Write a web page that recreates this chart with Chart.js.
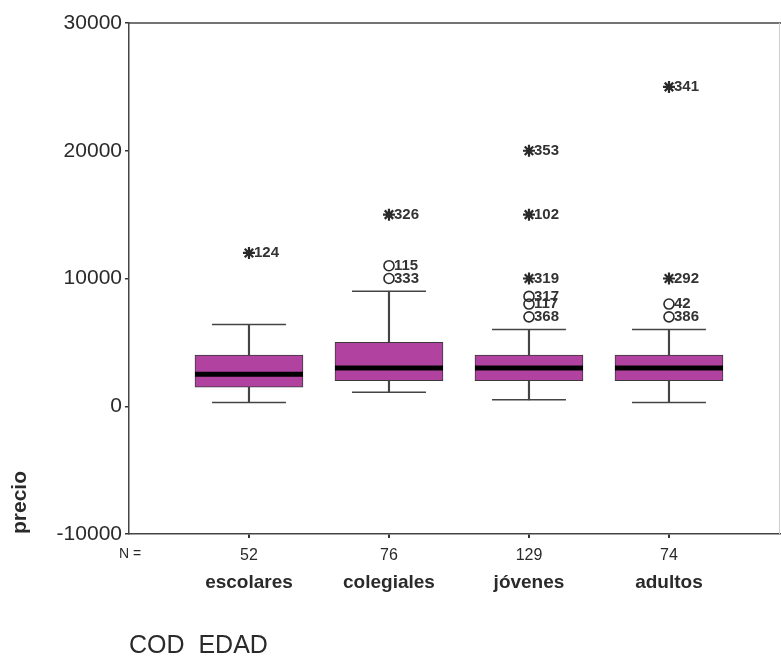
<!DOCTYPE html>
<html>
<head>
<meta charset="utf-8">
<script src="https://cdn.jsdelivr.net/npm/chart.js@4/dist/chart.umd.min.js"></script>
<style>
  body { margin: 0; background: #fff; }
</style>
</head>
<body>
<canvas id="boxChart" width="781" height="659"></canvas>
<script>
// categorias y resumen de cada caja
const categories = ["escolares", "colegiales", "jóvenes", "adultos"]
const counts = [52, 76, 129, 74]
const whiskerLow = [300, 1100, 500, 300]
const q1 = [1500, 2000, 2000, 2000]
const median = [2500, 3000, 3000, 3000]
const q3 = [4000, 5000, 4000, 4000]
const whiskerHigh = [6400, 9000, 6000, 6000]

// atipicos (circulo) y extremos (asterisco)
const outlierCat = [2, 2, 3, 3, 3, 4, 4]
const outlierVal = [11000, 10000, 8600, 8000, 7000, 8000, 7000]
const outlierId = ["115", "333", "317", "117", "368", "42", "386"]

const extremeCat = [1, 2, 3, 3, 3, 4, 4]
const extremeVal = [12000, 15000, 20000, 15000, 10000, 25000, 10000]
const extremeId = ["124", "326", "353", "102", "319", "341", "292"]

const yTicks = [-10000, 0, 10000, 20000, 30000]

const FONT = "'Liberation Sans', Arial, sans-serif"
const INK = "#2a2a2a"

const pos = categories.map((c, i) => i + 1)

// N = fila y etiquetas de los puntos
const extraText = {
  id: "extraText",
  afterDatasetsDraw(chart) {
    const ctx = chart.ctx
    ctx.save()
    ctx.fillStyle = "#333"
    ctx.textBaseline = "middle"
    ctx.textAlign = "left"
    ctx.font = "bold 15px " + FONT
    chart.data.datasets.forEach((ds, di) => {
      if (!ds.ids) return
      const meta = chart.getDatasetMeta(di)
      meta.data.forEach((pt, i) => {
        ctx.fillText(ds.ids[i], pt.x + 5, pt.y)
      })
    })
    const xs = chart.scales.x
    ctx.fillStyle = INK
    ctx.textAlign = "center"
    ctx.font = "14px " + FONT
    ctx.fillText("N =", 130, 554)
    ctx.font = "16px " + FONT
    counts.forEach((n, i) => {
      ctx.fillText(String(n), xs.getPixelForValue(pos[i]), 556)
    })
    ctx.restore()
  },
  afterDraw(chart) {
    const { ctx, chartArea } = chart
    ctx.save()
    ctx.strokeStyle = "#444"
    ctx.lineWidth = 1.5
    ctx.beginPath()
    ctx.moveTo(chartArea.left, chartArea.top)
    ctx.lineTo(chartArea.right + 1, chartArea.top)
    ctx.stroke()
    ctx.strokeStyle = "#cfcfcf"
    ctx.lineWidth = 1
    ctx.beginPath()
    ctx.moveTo(chartArea.right - 0.5, chartArea.top)
    ctx.lineTo(chartArea.right - 0.5, chartArea.bottom)
    ctx.stroke()
    ctx.restore()
  },
}

new Chart(document.getElementById("boxChart"), {
  type: "bar",
  data: {
    datasets: [
      {
        // bigotes
        data: pos.map((x, i) => ({ x: x, y: [whiskerLow[i], whiskerHigh[i]] })),
        backgroundColor: "#444",
        barThickness: 1.5,
        grouped: false,
        order: 6,
      },
      {
        // cajas
        data: pos.map((x, i) => ({ x: x, y: [q1[i], q3[i]] })),
        backgroundColor: "rgb(178, 66, 160)",
        borderColor: "#3a3a3a",
        borderWidth: 1,
        borderSkipped: false,
        barThickness: 108,
        grouped: false,
        order: 5,
      },
      {
        type: "scatter",
        data: pos.map((x, i) => ({ x: x, y: whiskerLow[i] })).concat(pos.map((x, i) => ({ x: x, y: whiskerHigh[i] }))),
        pointStyle: "line",
        pointRadius: 37,
        borderColor: "#444",
        borderWidth: 1.5,
        order: 4,
      },
      {
        type: "scatter",
        data: pos.map((x, i) => ({ x: x, y: median[i] })),
        pointStyle: "line",
        pointRadius: 54,
        borderColor: "#000",
        borderWidth: 5,
        order: 3,
      },
      {
        type: "scatter",
        data: outlierCat.map((c, i) => ({ x: c, y: outlierVal[i] })),
        ids: outlierId,
        pointStyle: "circle",
        pointRadius: 5,
        backgroundColor: "rgba(255,255,255,0)",
        borderColor: INK,
        borderWidth: 1.6,
        order: 2,
      },
      {
        type: "scatter",
        data: extremeCat.map((c, i) => ({ x: c, y: extremeVal[i] })),
        ids: extremeId,
        pointStyle: "star",
        pointRadius: 6,
        borderColor: INK,
        borderWidth: 2.2,
        order: 1,
      },
    ],
  },
  options: {
    responsive: false,
    animation: false,
    layout: { autoPadding: false, padding: { top: 23, right: 1, left: 0, bottom: 0 } },
    plugins: { legend: { display: false }, tooltip: { enabled: false } },
    scales: {
      x: {
        type: "linear",
        offset: false,
        min: 0.143,
        max: 4.793,
        afterBuildTicks: (scale) => {
          scale.ticks = pos.map((v) => ({ value: v }))
        },
        afterFit: (scale) => {
          scale.height = 125
        },
        ticks: {
          callback: (v) => categories[v - 1],
          font: { family: FONT, size: 19, weight: "bold" },
          color: INK,
          padding: 33,
          maxRotation: 0,
        },
        grid: { display: true, offset: false, drawOnChartArea: false, drawTicks: true, tickLength: 4, color: "#333", lineWidth: 2 },
        border: { display: true, color: "#444", width: 1.5 },
        title: {
          display: true,
          text: "COD  EDAD",
          align: "start",
          color: INK,
          font: { family: FONT, size: 25, lineHeight: 1 },
          padding: 0,
        },
      },
      y: {
        min: -10000,
        max: 30000,
        afterBuildTicks: (scale) => {
          scale.ticks = yTicks.map((v) => ({ value: v }))
        },
        afterFit: (scale) => {
          scale.width = 129
        },
        ticks: {
          callback: (v) => String(v),
          font: { family: FONT, size: 21 },
          color: INK,
          padding: 3,
        },
        grid: { display: true, drawOnChartArea: false, drawTicks: true, tickLength: 4, color: "#333", lineWidth: 1.5 },
        border: { display: true, color: "#444", width: 1.5 },
        title: {
          display: true,
          text: "precio",
          align: "start",
          color: INK,
          font: { family: FONT, size: 21, weight: "bold", lineHeight: 1.2 },
          padding: { top: 8, bottom: 0 },
        },
      },
    },
  },
  plugins: [extraText],
})
</script>
</body>
</html>
